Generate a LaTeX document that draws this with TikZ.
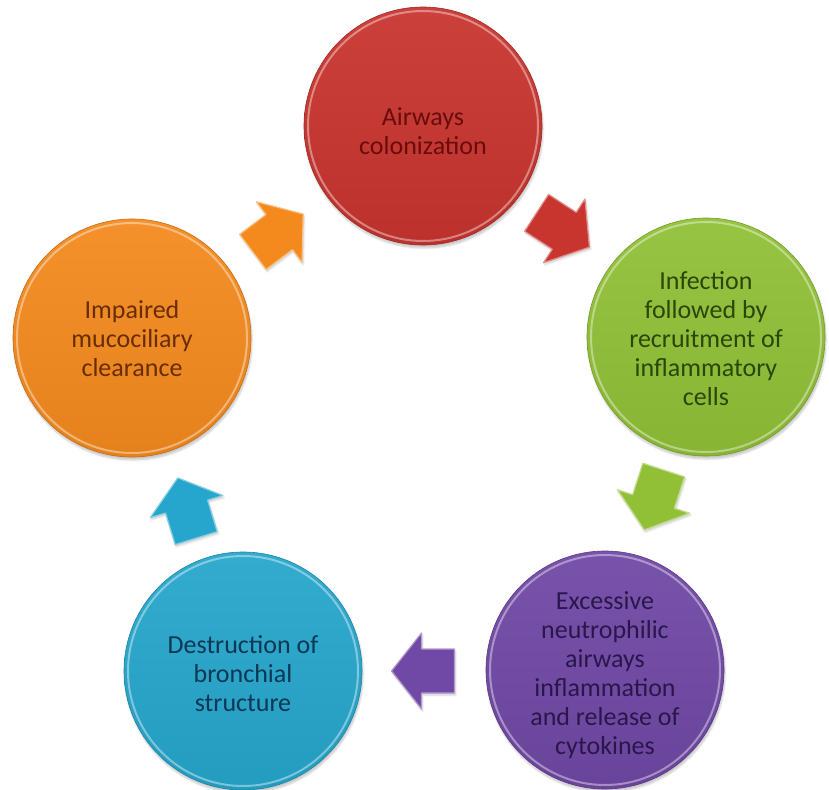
\documentclass[tikz,border=0pt]{standalone}
\usepackage{fontspec}
\setmainfont{Carlito}
\usetikzlibrary{shadows.blur}
\definecolor{cRed}{RGB}{200,52,46}
\definecolor{cGreen}{RGB}{145,192,55}
\definecolor{cPurple}{RGB}{112,72,165}
\definecolor{cBlue}{RGB}{38,166,204}
\definecolor{cOrange}{RGB}{244,138,30}
\definecolor{tRed}{RGB}{105,12,12}
\definecolor{tGreen}{RGB}{42,70,8}
\definecolor{tPurple}{RGB}{42,22,75}
\definecolor{tBlue}{RGB}{12,55,85}
\definecolor{tOrange}{RGB}{105,45,3}
\newcommand\blkarrow[3]{%
  \begin{scope}[shift={#1},rotate=#2]
    \path[blk=#3] (-31.5,-22) -- (1.5,-22) -- (1.5,-38) -- (31.5,0)
      -- (1.5,38) -- (1.5,22) -- (-31.5,22) -- cycle;
  \end{scope}}
\begin{document}
\begin{tikzpicture}[x=1pt,y=1pt,
  ball/.style={circle, minimum size=238pt, inner sep=0pt, outer sep=0pt,
    draw=#1!80!black, line width=0.6pt,
    top color=#1!94!white, bottom color=#1!94!black,
    blur shadow={shadow xshift=1pt, shadow yshift=-3pt, shadow opacity=22, shadow blur steps=6}},
  lbl/.style={align=center, font=\fontsize{26}{29}\selectfont, text=#1},
  blk/.style={fill=#1, draw=#1!55!white, line width=1.2pt, line join=round,
    blur shadow={shadow xshift=1pt, shadow yshift=-2pt, shadow opacity=20, shadow blur steps=5}},
  rim/.style={draw=white, opacity=0.4, line width=2pt}]
\useasboundingbox (0,0) rectangle (829,-789);

\node[ball=cRed] (colon) at (423,-126) {};
\node[ball=cGreen] (infect) at (706,-337) {};
\node[ball=cPurple] (neutro) at (605,-670) {};
\node[ball=cBlue] (destr) at (243,-671) {};
\node[ball=cOrange] (impair) at (132,-338) {};

\foreach \n in {colon,infect,neutro,destr,impair}
  \draw[rim] (\n.center) circle (115);

\node[lbl=tRed, yshift=-5pt] (colonT) at (colon.center) {Airways\\colonization};
\node[lbl=tGreen, yshift=-2pt] (infectT) at (infect.center)
  {Infection\\followed by\\recruitment of\\inflammatory\\cells};
\node[lbl=tPurple, yshift=-5pt] (neutroT) at (neutro.center)
  {Excessive\\neutrophilic\\airways\\inflammation\\and release of\\cytokines};
\node[lbl=tBlue, yshift=-3pt] (destrT) at (destr.center)
  {Destruction of\\bronchial\\structure};
\node[lbl=tOrange, yshift=-1pt] (impairT) at (impair.center)
  {Impaired\\mucociliary\\clearance};

\blkarrow{(278,-233)}{37}{cOrange}
\blkarrow{(563,-230)}{-33}{cRed}
\blkarrow{(654,-500)}{-108}{cGreen}
\blkarrow{(423,-671)}{180}{cPurple}
\blkarrow{(187,-508)}{107}{cBlue}
\end{tikzpicture}
\end{document}
